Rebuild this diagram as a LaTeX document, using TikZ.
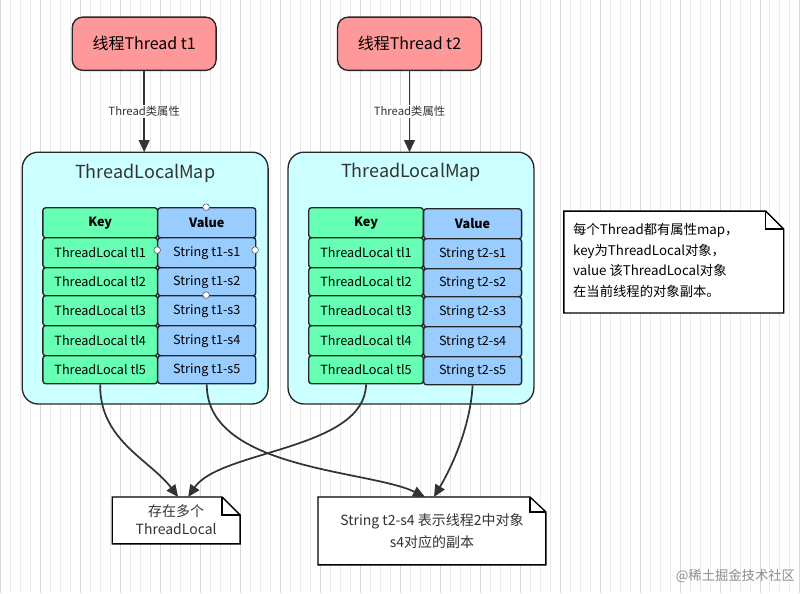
\documentclass[tikz,border=0pt]{standalone}
\usepackage{fontspec}
\setmainfont{Noto Sans CJK SC}
\usetikzlibrary{arrows.meta}
\definecolor{mapc}{RGB}{204,255,255}
\definecolor{keyc}{RGB}{102,255,179}
\definecolor{valc}{RGB}{153,204,255}
\definecolor{thrc}{RGB}{255,153,153}
\begin{document}
\begin{tikzpicture}[x=0.75pt,y=-0.75pt,
  thr/.style={draw=black!85,line width=1pt,rounded corners=8pt,fill=thrc,font=\fontsize{12}{14}\selectfont},
  map/.style={draw=black!85,line width=1pt,rounded corners=12pt,fill=mapc},
  kc/.style={draw=black!85,line width=1pt,rounded corners=2pt,fill=keyc,font=\fontsize{9.5}{11}\selectfont},
  vc/.style={draw=black!85,line width=1pt,rounded corners=2pt,fill=valc,font=\fontsize{9.5}{11}\selectfont},
  arr/.style={line width=1.3pt,black!80,-{Triangle[length=9pt,width=8pt]}},
  lbl/.style={fill=white,inner sep=1pt,font=\fontsize{8.5}{10}\selectfont,text=black!80},
  hd/.style={circle,draw=black!70,fill=white,inner sep=0pt,minimum size=5pt}]
\fill[white] (0,0) rectangle (807,593);
\draw[black!8,line width=0.4pt,step=10] (0,0) grid (807,593);
\draw[black!15,line width=0.4pt,step=40] (0,0) grid (807,593);
\useasboundingbox (0,0) rectangle (807,593);
% threads
\node[thr,minimum width=108pt,minimum height=40pt] (t1) at (144,43.5) {线程Thread t1};
\node[thr,minimum width=108pt,minimum height=40pt] (t2) at (409.5,43.5) {线程Thread t2};
% maps
\draw[map] (22,152) rectangle (268,404);
\draw[map] (288,152) rectangle (534,404);
\coordinate (m1) at (144,152);
\coordinate (m2) at (409.5,152);
\node[font=\fontsize{13.5}{16}\selectfont,text=black!80] (mt1) at (145,173) {ThreadLocalMap};
\node[font=\fontsize{13.5}{16}\selectfont,text=black!80] (mt2) at (411,172) {ThreadLocalMap};
\draw[arr] (t1) -- node[lbl]{Thread类属性} (m1);
\draw[arr] (t2) -- node[lbl]{Thread类属性} (m2);
% table 1
\foreach \i/\ya/\yb/\k/\v in {0/207/237/\textbf{Key}/\textbf{Value},1/237/267/ThreadLocal tl1/String t1-s1,2/267/295/ThreadLocal tl2/String t1-s2,3/295/325/ThreadLocal tl3/String t1-s3,4/325/355/ThreadLocal tl4/String t1-s4,5/355/383/ThreadLocal tl5/String t1-s5}{
  \node[kc,minimum width=86pt,minimum height={(\yb-\ya)*0.75pt},anchor=north west] (ak\i) at (42,\ya) {\k};
  \node[vc,minimum width=73.5pt,minimum height={(\yb-\ya)*0.75pt},anchor=north west] (av\i) at (157,\ya) {\v};
}
% table 2
\foreach \i/\ya/\yb/\k/\v in {0/207/237/\textbf{Key}/\textbf{Value},1/237/267/ThreadLocal tl1/String t2-s1,2/267/295/ThreadLocal tl2/String t2-s2,3/295/325/ThreadLocal tl3/String t2-s3,4/325/355/ThreadLocal tl4/String t2-s4,5/355/383/ThreadLocal tl5/String t2-s5}{
  \node[kc,minimum width=86pt,minimum height={(\yb-\ya)*0.75pt},anchor=north west] (bk\i) at (308,\ya) {\k};
  \node[vc,minimum width=73.5pt,minimum height={(\yb-\ya)*0.75pt},anchor=north west] (bv\i) at (423,{\ya+1}) {\v};
}
% handles
\node[hd] (h1) at (206,207) {};
\node[hd] (h2) at (157,250) {};
\node[hd] (h3) at (255,250) {};
\node[hd] (h4) at (206,295) {};
% notes
\draw[line width=1pt,fill=white] (564,211) -- (766,211) -- (784,229) -- (784,313) -- (564,313) -- cycle;
\draw[line width=1pt] (766,211) -- (766,229) -- (784,229);
\node[anchor=north west,align=left,font=\fontsize{10}{15.5}\selectfont,inner sep=0pt] (nt) at (573,223) {每个Thread都有属性map，\\key为ThreadLocal对象，\\value 该ThreadLocal对象\\在当前线程的对象副本。};
\draw[line width=1pt,fill=white] (112,497) -- (222,497) -- (240,515) -- (240,544) -- (112,544) -- cycle;
\draw[line width=1pt] (222,497) -- (222,515) -- (240,515);
\coordinate (n1) at (178,497);
\coordinate (n1b) at (188,497);
\node[align=center,font=\fontsize{10.5}{13.5}\selectfont,text=black!80] (n1t) at (176,520) {存在多个\\ThreadLocal};
\draw[line width=1pt,fill=white] (318,497) -- (530,497) -- (546,512) -- (546,565) -- (318,565) -- cycle;
\draw[line width=1pt] (530,497) -- (530,512) -- (546,512);
\coordinate (n2) at (425,497);
\coordinate (n2b) at (434,497);
\node[align=center,font=\fontsize{10.5}{16.5}\selectfont,text=black!80] (n2t) at (432,531) {String t2-s4 表示线程2中对象\\s4对应的副本};
% curves
\draw[arr] (ak5.south) .. controls (99,440) and (150,460) .. (n1);
\draw[arr] (av5.south) .. controls (206,470) and (370,470) .. (n2);
\draw[arr] (bk5.south) .. controls (365,450) and (220,450) .. (n1b);
\draw[arr] (bv5.south) .. controls (470,430) and (450,470) .. (n2b);
\node[anchor=south east,font=\fontsize{10}{12}\selectfont,text=black!45] (wm) at (800,588) {@稀土掘金技术社区};
\end{tikzpicture}
\end{document}
